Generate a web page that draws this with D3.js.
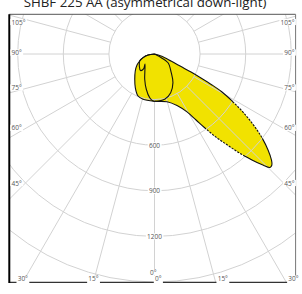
<!DOCTYPE html>
<html>
<head>
<meta charset="utf-8">
<script src="https://cdn.jsdelivr.net/npm/d3@7"></script>
<style>
  body { margin: 0; background: #fff; }
  svg { display: block; }
  text { font-family: "Open Sans", sans-serif; }
</style>
</head>
<body>
<svg id="chart" width="302" height="294"></svg>
<script>
const title = "SHBF 225 AA (asymmetrical down-light)";

// outer curve (filled): angle from nadir in degrees (+ right, - left), intensity in cd
const outerAngles = [90, 72.9, 67.0, 64.7, 63.7, 62.7, 61.7, 60.6, 58.8, 56.9, 54.7, 52.4, 49.8, 47.8, 46.6,
  45.5, 44.3, 42.6, 40.7, 38.8, 36.5, 34.3, 32.2, 29.3, 23.6, 14.7, 0,
  -14.2, -21.4, -29.7, -38, -48.5, -57.8, -64.7, -72.2, -81, -90];
const outerValues = [0, 45, 118, 193, 268, 344, 430, 510, 596, 687, 786, 884, 978, 1039, 1063,
  1065, 1021, 947, 862, 772, 680, 589, 513, 437, 370, 325, 311,
  307, 297, 255, 211, 169, 136, 108, 79, 43, 0];

// inner curve (outline only)
const innerAngles = [-90, -81, -72.2, -64.7, -40.3, -36.3, -43.5, -28.3, -21.2, -13.1, -6.3, -1.8,
  12.7, 22.7, 32.8, 41.9, 57.2, 61.5, 90];
const innerValues = [0, 43, 79, 108, 142, 122, 91, 134, 178, 238, 289, 309,
  305, 276, 224, 165, 106, 51, 0];

const ringValues = [300, 600, 900, 1200, 1500];
const ringLabels = [600, 900, 1200];
const sideLabels = [105, 90, 75, 60, 45];
const bottomLabels = [-30, -15, 0, 15, 30];

const svg = d3.select("#chart");
const cx = 154.5, cy = 54;
const box = {x0: 9.3, y0: 14.3, x1: 295.6, y1: 282.3};
const r = d3.scaleLinear().domain([0, 1500]).range([0, 228]);
const rad = d => d * Math.PI / 180;

// title (cut off at the top, as in the source)
svg.append("text")
  .attr("x", 145).attr("y", 6.8)
  .attr("text-anchor", "middle")
  .attr("font-size", 13.3).attr("fill", "#222")
  .text(title);

svg.append("defs").append("clipPath").attr("id", "frame")
  .append("rect")
  .attr("x", box.x0).attr("y", box.y0)
  .attr("width", box.x1 - box.x0).attr("height", box.y1 - box.y0);

const plot = svg.append("g").attr("clip-path", "url(#frame)");
const g = plot.append("g").attr("transform", `translate(${cx},${cy})`);

const toPts = (angles, values) => angles.map((a, i) => ({a, v: values[i]}));
const outer = toPts(outerAngles, outerValues);
const inner = toPts(innerAngles, innerValues);

const radial = d3.lineRadial()
  .angle(d => Math.PI - rad(d.a))
  .radius(d => r(d.v))
  .curve(d3.curveCatmullRom.alpha(0.5));

// fill first, grid over it
g.append("path")
  .attr("d", radial(outer) + "Z")
  .attr("fill", "#f1e200");

g.selectAll("circle.ring")
  .data(ringValues)
  .join("circle")
  .attr("class", "ring")
  .attr("r", d => r(d))
  .attr("fill", "none")
  .attr("stroke", "#d2d2d2")
  .attr("stroke-width", 1);

g.selectAll("line.spoke")
  .data(d3.range(0, 360, 15))
  .join("line")
  .attr("class", "spoke")
  .attr("x1", d => r(300) * Math.sin(rad(d)))
  .attr("y1", d => r(300) * Math.cos(rad(d)))
  .attr("x2", d => r(2400) * Math.sin(rad(d)))
  .attr("y2", d => r(2400) * Math.cos(rad(d)))
  .attr("stroke", "#d2d2d2")
  .attr("stroke-width", 1);

// frame
svg.append("line")
  .attr("x1", box.x0).attr("y1", box.y0).attr("x2", box.x1).attr("y2", box.y0)
  .attr("stroke", "#555").attr("stroke-width", 1);
svg.append("line")
  .attr("x1", box.x1).attr("y1", box.y0).attr("x2", box.x1).attr("y2", box.y1)
  .attr("stroke", "#777").attr("stroke-width", 1);
svg.append("line")
  .attr("x1", box.x0).attr("y1", box.y1).attr("x2", box.x1).attr("y2", box.y1)
  .attr("stroke", "#333").attr("stroke-width", 1.3);
svg.append("line")
  .attr("x1", box.x0).attr("y1", box.y0).attr("x2", box.x0).attr("y2", box.y1 + 0.6)
  .attr("stroke", "#000").attr("stroke-width", 2);

// labels with a white backing that breaks the lines behind them
function label(x, y, txt, anchor, baseline, padBottom) {
  const t = svg.append("text")
    .attr("x", x).attr("y", y)
    .attr("text-anchor", anchor)
    .attr("dominant-baseline", baseline)
    .attr("font-size", 6.5)
    .attr("fill", "#555")
    .text(txt);
  const b = t.node().getBBox();
  const top = b.y + 1.4;
  const bottom = b.y + b.height - 1.4 + (padBottom || 0);
  svg.insert("rect", () => t.node())
    .attr("x", b.x - 1.2).attr("y", top)
    .attr("width", b.width + 2.4).attr("height", bottom - top)
    .attr("fill", "#fff");
}

ringLabels.forEach(v => label(cx, cy + r(v), String(v), "middle", "central"));

sideLabels.forEach(a => {
  const y = Math.max(22, cy + 130.5 / Math.tan(rad(a)) - 1.5);
  label(11.5, y, a + "°", "start", "central");
  label(294.5, y, a + "°", "end", "central");
});

bottomLabels.forEach(a => {
  const hx = cx + (box.y1 - cy) * Math.tan(rad(a));
  const x = hx + (a < 0 ? -5 : a > 0 ? 2 : 0.5);
  label(x, box.y1 - 1.2, Math.abs(a) + "°", "start", "auto", 1.5);
});
label(153.3, 274.6, "0°", "middle", "auto");

// outlines on top; the outer one is dashed between the 600 and 900 cd rings
const outerPath = g.append("path")
  .attr("d", radial(outer))
  .attr("fill", "none")
  .attr("stroke", "#111")
  .attr("stroke-width", 1.1)
  .attr("stroke-linejoin", "round");

(function dashOuter() {
  const node = outerPath.node();
  const L = node.getTotalLength();
  const step = 0.25;
  const runs = [];
  for (let l = 0; l < L; l += step) {
    const p = node.getPointAtLength(l);
    const v = r.invert(Math.hypot(p.x, p.y));
    const dashed = v > 600 && v < 900;
    if (runs.length && runs[runs.length - 1].dashed === dashed) runs[runs.length - 1].len += step;
    else runs.push({dashed, len: step});
  }
  const arr = [];
  runs.forEach(run => {
    if (!run.dashed) { arr.push(run.len, 0); return; }
    let left = run.len;
    while (left > 0) {
      const d = Math.min(2.2, left); left -= d;
      const gp = Math.min(1.2, left); left -= gp;
      arr.push(d, gp);
    }
  });
  outerPath.attr("stroke-dasharray", arr.join(","));
})();

g.append("path")
  .attr("d", radial(inner))
  .attr("fill", "none")
  .attr("stroke", "#111")
  .attr("stroke-width", 1.1)
  .attr("stroke-linejoin", "round");
</script>
</body>
</html>
